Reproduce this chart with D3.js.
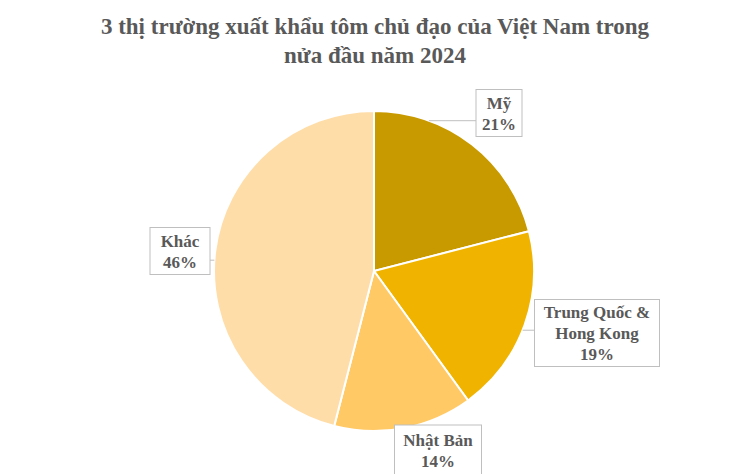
<!DOCTYPE html>
<meta charset="utf-8">
<style>
body { margin: 0; background: #fff; }
text { font-family: "Liberation Serif", "Times New Roman", serif; font-weight: bold; fill: #595959; }
.box { fill: #fff; stroke: #bfbfbf; stroke-width: 1px; }
.leader { stroke: #bfbfbf; stroke-width: 1px; fill: none; }
</style>
<body>
<script src="https://d3js.org/d3.v7.min.js"></script>
<script>
var categories = ["Mỹ", "Trung Quốc & Hong Kong", "Nhật Bản", "Khác"];
var values = [21, 19, 14, 46];
var labelLines = [["Mỹ", "21%"], ["Trung Quốc &", "Hong Kong", "19%"], ["Nhật Bản", "14%"], ["Khác", "46%"]];
var colors = ["#c99a00", "#f0b400", "#ffc966", "#ffdda8"];

var width = 751, height = 474;
var cx = 374, cy = 271, radius = 160;

var svg = d3.select("body").append("svg")
    .attr("width", width)
    .attr("height", height);

// title
var title = svg.append("text")
    .attr("text-anchor", "middle")
    .style("font-size", "23px");
title.append("tspan").attr("x", 375).attr("y", 34).text("3 thị trường xuất khẩu tôm chủ đạo của Việt Nam trong");
title.append("tspan").attr("x", 375).attr("y", 63).text("nửa đầu năm 2024");

var pie = d3.pie().sort(null).value(function(d) { return d; });
var arc = d3.arc().innerRadius(0).outerRadius(radius);
var arcs = pie(values);

var g = svg.append("g").attr("transform", "translate(" + cx + "," + cy + ")");
g.selectAll("path")
    .data(arcs)
    .enter().append("path")
    .attr("d", arc)
    .attr("fill", function(d, i) { return colors[i]; })
    .attr("stroke", "#fff")
    .attr("stroke-width", 2);

// label boxes (centre position, size)
var boxes = [
    {x: 499, y: 113, w: 46, h: 47},
    {x: 597, y: 333, w: 125, h: 67},
    {x: 438, y: 450, w: 87, h: 50},
    {x: 180, y: 251, w: 60, h: 47}
];
var leaderAngle = [0.35, 1.95, null, 4.78];

arcs.forEach(function(a, i) {
    var b = boxes[i];
    var lg = svg.append("g");
    if (leaderAngle[i] !== null) {
        var ang = leaderAngle[i];
        var px = cx + Math.sin(ang) * radius, py = cy - Math.cos(ang) * radius;
        var bx = px < b.x - b.w / 2 ? b.x - b.w / 2 : (px > b.x + b.w / 2 ? b.x + b.w / 2 : px);
        var by = Math.max(b.y - b.h / 2, Math.min(b.y + b.h / 2, py));
        lg.append("line").attr("class", "leader")
            .attr("x1", px).attr("y1", py).attr("x2", bx).attr("y2", by);
    }
    lg.append("rect").attr("class", "box")
        .attr("x", b.x - b.w / 2).attr("y", b.y - b.h / 2)
        .attr("width", b.w).attr("height", b.h);
    var lines = labelLines[i];
    var lh = 21;
    var t = lg.append("text").attr("text-anchor", "middle").style("font-size", "17px");
    lines.forEach(function(s, k) {
        t.append("tspan").attr("x", b.x)
            .attr("y", b.y - (lines.length - 1) * lh / 2 + k * lh + 6)
            .text(s);
    });
});
</script>
</body>
